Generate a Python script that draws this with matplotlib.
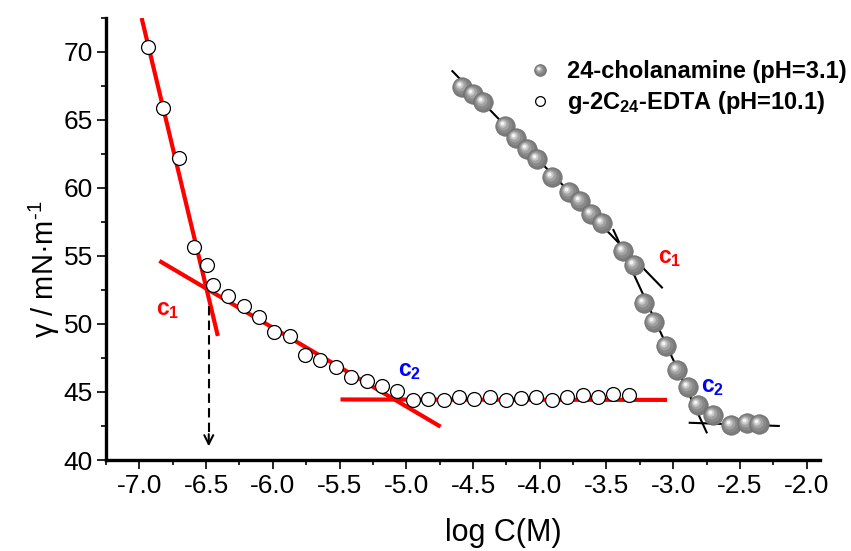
import matplotlib
matplotlib.use("Agg")
import matplotlib.pyplot as plt
from matplotlib.lines import Line2D
from matplotlib.markers import MarkerStyle
from matplotlib.transforms import Affine2D
from matplotlib.legend_handler import HandlerTuple
from matplotlib.ticker import MultipleLocator, FormatStrFormatter

plt.rcParams["font.family"] = ["Liberation Sans", "DejaVu Sans"]
plt.rcParams["mathtext.fontset"] = "custom"
plt.rcParams["mathtext.rm"] = "Liberation Sans"
plt.rcParams["mathtext.it"] = "Liberation Sans:italic"
plt.rcParams["mathtext.bf"] = "Liberation Sans:bold"
plt.rcParams["axes.unicode_minus"] = False

# g-2C24-EDTA (pH=10.1), open circles
edta_logc = [-6.935, -6.822, -6.705, -6.589, -6.495, -6.450, -6.334, -6.219,
             -6.107, -5.992, -5.874, -5.762, -5.649, -5.529, -5.411, -5.298,
             -5.181, -5.068, -4.948, -4.836, -4.720, -4.603, -4.490, -4.372,
             -4.252, -4.142, -4.027, -3.907, -3.797, -3.679, -3.564, -3.451,
             -3.334]
edta_gamma = [70.34, 65.90, 62.17, 55.67, 54.35, 52.85, 52.05, 51.33,
              50.55, 49.40, 49.12, 47.70, 47.36, 46.84, 46.11, 45.79,
              45.45, 45.05, 44.44, 44.51, 44.44, 44.61, 44.51, 44.64,
              44.44, 44.54, 44.61, 44.44, 44.64, 44.78, 44.64, 44.86,
              44.76]

# 24-cholanamine (pH=3.1), grey spheres
chol_logc = [-4.580, -4.498, -4.423, -4.262, -4.177, -4.097, -4.022, -3.907,
             -3.777, -3.697, -3.614, -3.534, -3.376, -3.296, -3.221, -3.141,
             -3.053, -2.971, -2.891, -2.813, -2.700, -2.565, -2.445, -2.358]
chol_gamma = [67.42, 66.91, 66.29, 64.58, 63.69, 62.86, 62.13, 60.80,
              59.67, 59.04, 58.10, 57.44, 55.40, 54.35, 51.57, 50.13,
              48.39, 46.62, 45.35, 44.05, 43.29, 42.58, 42.70, 42.65]

# linear fit segments (end points)
edta_fit_x = [[-6.983, -6.412], [-6.850, -4.743], [-5.493, -3.046]]
edta_fit_y = [[72.50, 49.12], [54.64, 42.45], [44.45, 44.42]]
chol_fit_x = [[-4.660, -3.079], [-3.451, -2.746], [-2.884, -2.201]]
chol_fit_y = [[68.65, 52.63], [56.98, 41.96], [42.74, 42.50]]

# break-point labels
cmc_labels = [r"$\mathbf{c_1}$", r"$\mathbf{c_2}$", r"$\mathbf{c_1}$", r"$\mathbf{c_2}$"]
cmc_x = [-6.787, -4.973, -3.023, -2.704]
cmc_y = [51.04, 46.56, 54.90, 45.39]
cmc_col = ["#ff0000", "#0000ff", "#ff0000", "#0000ff"]

arrow_x = -6.48
arrow_y = [51.3, 41.0]

# shaded-sphere layers: (size fraction, colour, highlight offset fraction)
SPHERE_LAYERS = [
    (1.00, "#7b7b7b", 0.00),
    (0.80, "#898989", 0.05),
    (0.58, "#a2a2a2", 0.09),
    (0.38, "#c8c8c8", 0.13),
    (0.20, "#f4f4f4", 0.15),
]


def sphere_lines(ms):
    out = []
    for i, (frac, col, off) in enumerate(SPHERE_LAYERS):
        s = ms * frac
        t = off * ms / s
        m = MarkerStyle("o", transform=Affine2D().translate(-t, t))
        out.append(dict(marker=m, markersize=s, markerfacecolor=col,
                        markeredgecolor="#6a6a6a" if i == 0 else "none",
                        markeredgewidth=0.5 if i == 0 else 0, linestyle="none"))
    return out


fig = plt.figure(figsize=(8.51, 5.51), dpi=100)
ax = fig.add_axes([106 / 851, 91 / 551, 714 / 851, 442 / 551])

for xs, ys in zip(edta_fit_x, edta_fit_y):
    ax.plot(xs, ys, color="#ff0000", lw=3, solid_capstyle="butt", zorder=2)
for xs, ys in zip(chol_fit_x, chol_fit_y):
    ax.plot(xs, ys, color="black", lw=1.5, solid_capstyle="butt", zorder=2)

ax.plot(edta_logc, edta_gamma, linestyle="none", marker="o", markersize=10,
        markerfacecolor="white", markeredgecolor="black", markeredgewidth=0.9, zorder=3)

for i, (x, y) in enumerate(zip(chol_logc, chol_gamma)):
    for kw in sphere_lines(14):
        ax.plot([x], [y], zorder=4 + i * 0.01, **kw)

ax.plot([arrow_x, arrow_x], [arrow_y[0], arrow_y[1] + 0.8], color="black",
        lw=1.5, dashes=(4.5, 2.5), zorder=2)
ax.annotate("", xy=(arrow_x, arrow_y[1]), xytext=(arrow_x, arrow_y[1] + 0.9),
            arrowprops=dict(arrowstyle="->", color="black", lw=1.5,
                            mutation_scale=16, shrinkA=0, shrinkB=0))

for lab, x, y, c in zip(cmc_labels, cmc_x, cmc_y, cmc_col):
    ax.text(x, y, lab, color=c, fontsize=16.5, ha="center", va="center", zorder=5)

ax.set_xlim(-7.25, -1.9)
ax.set_ylim(40, 72.5)
ax.xaxis.set_major_locator(MultipleLocator(0.5))
ax.xaxis.set_minor_locator(MultipleLocator(0.25))
ax.xaxis.set_major_formatter(FormatStrFormatter("%.1f"))
ax.yaxis.set_major_locator(MultipleLocator(5))
ax.yaxis.set_minor_locator(MultipleLocator(2.5))
for side in ("top", "right"):
    ax.spines[side].set_visible(False)
for side in ("left", "bottom"):
    ax.spines[side].set_linewidth(2.4)
ax.tick_params(which="major", length=6.5, width=1.2, labelsize=19, pad=3.5)
ax.tick_params(which="minor", length=3.5, width=1.2)
ax.tick_params(axis="y", which="major", pad=3)

ax.set_xlabel("log C(M)", fontsize=22)
ax.xaxis.set_label_coords(0.556, -0.131)
ax.set_ylabel(r"γ / mN·m$^{\text{-1}}$", fontsize=21)
ax.yaxis.set_label_coords(-0.061, 0.432)

sph = tuple(Line2D([], [], **kw) for kw in sphere_lines(8.5))
opn = Line2D([], [], linestyle="none", marker="o", markersize=7,
             markerfacecolor="white", markeredgecolor="black", markeredgewidth=0.9)
ax.legend([sph, opn], ["24-cholanamine (pH=3.1)", r"g-2C$_{\mathbf{24}}$-EDTA (pH=10.1)"],
          handler_map={tuple: HandlerTuple(ndivide=1, pad=0)},
          loc="upper left", bbox_to_anchor=(0.591, 0.905), frameon=False,
          prop=dict(size=17, weight="bold"), handlelength=1.0, handletextpad=0.65,
          labelspacing=0.25, borderpad=0, borderaxespad=0)

fig.savefig("out.png", dpi=100)
